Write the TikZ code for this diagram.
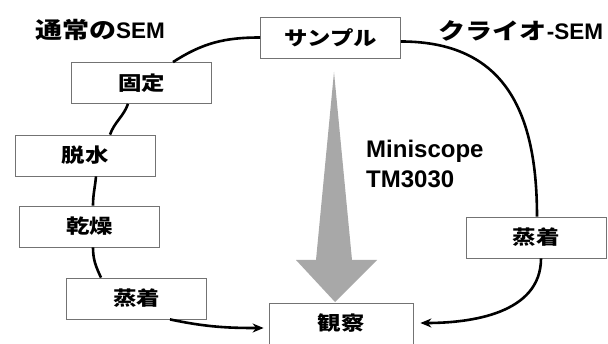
\documentclass[tikz,border=0pt]{standalone}
\usepackage{fontspec}
\setmainfont{Liberation Sans}
\newfontfamily\jp{Noto Sans CJK JP}[FakeStretch=1.2]
\usetikzlibrary{arrows.meta}
\definecolor{arrowgray}{gray}{0.66}

\begin{document}
\begin{tikzpicture}[x=1pt,y=1pt,
    box/.style={draw=black!55, line width=0.8pt, fill=white, minimum width=140pt,
      minimum height=41pt, inner sep=0pt, font=\jp\bfseries\fontsize{19.5}{20}\selectfont},
    flow/.style={line width=2.6pt},
    flowarrow/.style={flow, -{Stealth[length=11pt,width=9pt]}, shorten >=5pt},
    title/.style={inner sep=0pt, font=\bfseries\fontsize{22.5}{24}\selectfont}]

        \clip (0,0) rectangle (608,343);
        \fill [white] (0,0) rectangle (608,343);

        %Miniscope arrow
        \fill [arrowgray] (334,271) -- (352,83) -- (377,83) -- (335,41)
          -- (296,83) -- (316,83) -- cycle;

        %Titles
        \node [title] (normal) at (100,313) {{\jp 通常の}SEM};
        \node [title] (cryo) at (521,312) {{\jp クライオ}-SEM};
        \node [inner sep=0pt, anchor=north west, align=left,
          font=\bfseries\fontsize{24}{30}\selectfont] (scope) at (366,203) {Miniscope\\TM3030};

        %Boxes
        \node [box] (sample) at (330.5,305.5) {サンプル};
        \node [box] (fix) at (141.5,260) {固定};
        \node [box] (dehyd) at (85,187.5) {脱水};
        \node [box] (dry) at (89.5,116.5) {乾燥};
        \node [box] (coat) at (136.5,44.5) {蒸着};
        \node [box, minimum width=144pt, minimum height=42pt] (observe) at (341,19) {\raisebox{3pt}{観察}};
        \node [box] (cryocoat) at (536,105.5) {蒸着};

        %Normal SEM path
        \draw [flow] (sample.west) to[out=180,in=33] ([xshift=31.5pt]fix.north);
        \draw [flow] ([xshift=-13.5pt]fix.south) to[out=-110,in=70] ([xshift=25pt]dehyd.north);
        \draw [flow] ([xshift=11pt]dehyd.south) to[out=-95,in=90] ([xshift=3.5pt]dry.north);
        \draw [flow] ([xshift=3.5pt]dry.south) to[out=-90,in=115] ([xshift=-35.5pt]coat.north);
        \draw [flowarrow] ([xshift=33.5pt]coat.south) to[out=-12,in=180] ([yshift=-4pt]observe.west);

        %Cryo SEM path
        \draw [flow] ([yshift=-4pt]sample.east) to[out=0,in=90,looseness=1.2] ([xshift=1pt]cryocoat.north);
        \draw [flowarrow, shorten >=7pt] ([xshift=5pt]cryocoat.south) to[out=-90,in=0] ([yshift=1pt]observe.east);

\end{tikzpicture}
\end{document}
